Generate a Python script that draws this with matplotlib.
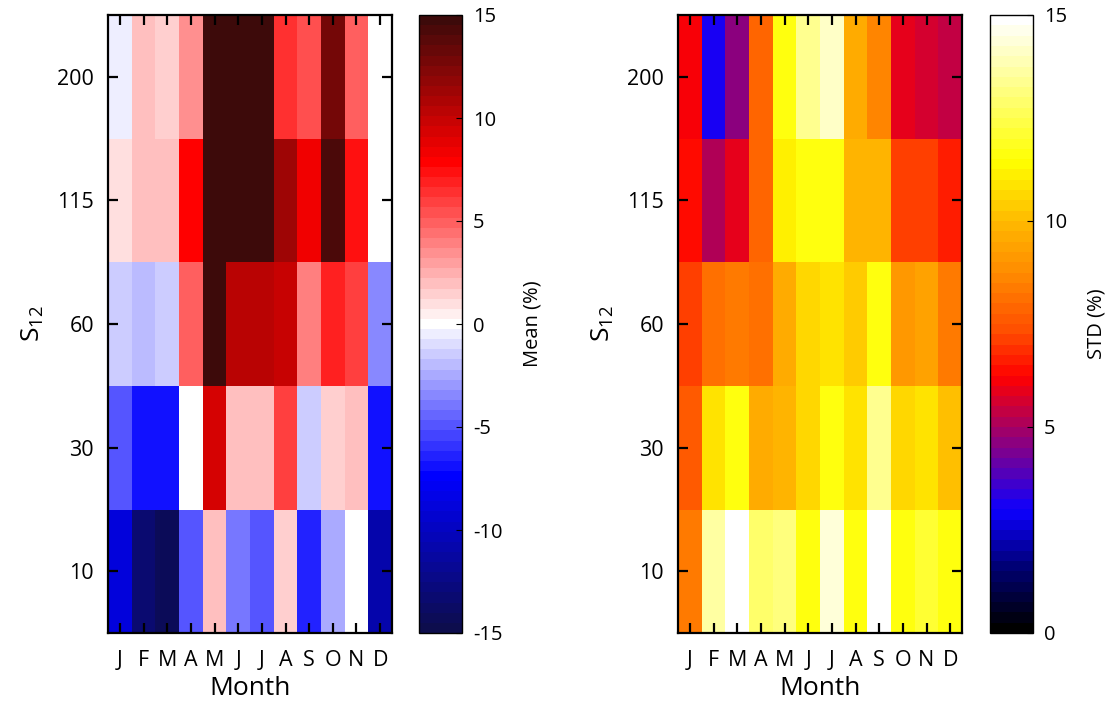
import numpy as np
import matplotlib
matplotlib.use("Agg")
import matplotlib.pyplot as plt
from matplotlib.colors import LinearSegmentedColormap, Normalize

plt.rcParams["font.family"] = ["Open Sans", "DejaVu Sans"]
plt.rcParams["mathtext.fontset"] = "custom"
plt.rcParams["mathtext.rm"] = "Open Sans"
plt.rcParams["mathtext.it"] = "Open Sans"
plt.rcParams["axes.unicode_minus"] = False

months = ["J", "F", "M", "A", "M", "J", "J", "A", "S", "O", "N", "D"]
s12_levels = ["10", "30", "60", "115", "200"]

# rows: bottom (10) to top (200)
mean_10 = [-8.8, -13.2, -14.1, -4.9, 2.0, -4.0, -4.8, 1.5, -6.3, -2.6, 0.0, -10.8]
mean_30 = [-4.8, -6.7, -7.1, 0.0, 9.1, 2.0, 2.0, 6.0, -1.4, 1.5, 2.0, -7.1]
mean_60 = [-1.4, -1.9, -1.4, 4.8, 15.0, 10.1, 10.1, 9.6, 3.7, 7.0, 5.7, -3.5]
mean_115 = [1.0, 2.0, 2.0, 8.0, 15.0, 15.0, 15.0, 11.5, 8.6, 14.1, 7.5, 0.0]
mean_200 = [-0.5, 2.0, 1.5, 3.5, 15.0, 15.0, 15.0, 6.4, 5.2, 12.7, 4.8, 0.0]

std_10 = [8.4, 13.6, 15.0, 12.8, 13.2, 11.6, 14.3, 11.7, 15.0, 11.7, 12.0, 11.6]
std_30 = [7.5, 10.9, 11.6, 9.7, 9.9, 10.6, 11.6, 10.9, 13.4, 10.7, 10.9, 10.2]
std_60 = [7.1, 8.0, 8.3, 8.0, 9.6, 10.7, 10.9, 10.3, 11.6, 9.0, 9.4, 8.4]
std_115 = [6.3, 5.0, 5.9, 7.9, 11.0, 11.6, 11.6, 9.8, 9.9, 7.0, 7.0, 6.7]
std_200 = [6.2, 3.0, 4.6, 7.9, 11.5, 13.4, 14.1, 9.7, 8.7, 5.9, 5.7, 5.4]

mean_data = np.array([mean_10, mean_30, mean_60, mean_115, mean_200])
std_data = np.array([std_10, std_30, std_60, std_115, std_200])

mean_cmap = LinearSegmentedColormap.from_list(
    "mean",
    [(0.0, (0.05, 0.05, 0.30)), (0.25, (0.0, 0.0, 1.0)), (0.5, (1, 1, 1)),
     (0.767, (1.0, 0.0, 0.0)), (1.0, (0.24, 0.04, 0.04))],
    N=61,
)
std_cmap = LinearSegmentedColormap.from_list(
    "std",
    [(0.0, (0, 0, 0)), (1.5 / 15, (0, 0, 0.45)), (2.9 / 15, (0.05, 0, 1)),
     (4.4 / 15, (0.5, 0, 0.55)), (6.2 / 15, (1, 0, 0)), (7.3 / 15, (1, 0.3, 0)),
     (8.8 / 15, (1, 0.55, 0)), (10 / 15, (1, 0.72, 0)), (11.5 / 15, (1, 1, 0)),
     (1.0, (1, 1, 1))],
    N=60,
)

W, H = 1107, 706
fig = plt.figure(figsize=(W / 100, H / 100), dpi=100)


def px_axes(x0, x1, y0, y1):
    return fig.add_axes([x0 / W, 1 - y1 / H, (x1 - x0) / W, (y1 - y0) / H])


def heat(ax, cax, data, cmap, vmin, vmax, cticks, clabel):
    im = ax.imshow(data, cmap=cmap, norm=Normalize(vmin, vmax), origin="lower",
                   aspect="auto", interpolation="nearest")
    ax.set_xticks(range(12))
    ax.set_xticklabels(months)
    ax.set_yticks(range(5))
    ax.set_yticklabels(s12_levels)
    ax.tick_params(direction="in", length=7, width=1.6, top=True, right=True,
                   labelsize=15.5, colors="black")
    ax.tick_params(axis="x", pad=12)
    ax.tick_params(axis="y", pad=10)
    for sp in ax.spines.values():
        sp.set_linewidth(1.6)
    ax.set_xlabel("Month", fontsize=19, labelpad=4)
    ax.set_ylabel(r"S$_{12}$", fontsize=19, labelpad=8)
    cb = fig.colorbar(im, cax=cax, ticks=cticks)
    cb.outline.set_linewidth(1.0)
    cax.tick_params(direction="in", length=4, width=0.8, labelsize=14.5, pad=8)
    cb.set_label(clabel, fontsize=14.5, labelpad=14)
    return im


ax1 = px_axes(108, 392, 15, 633)
cax1 = px_axes(419, 462, 15, 633)
heat(ax1, cax1, mean_data, mean_cmap, -15, 15, [-15, -10, -5, 0, 5, 10, 15], "Mean (%)")

ax2 = px_axes(678, 962, 15, 633)
cax2 = px_axes(990, 1033, 15, 633)
heat(ax2, cax2, std_data, std_cmap, 0, 15, [0, 5, 10, 15], "STD (%)")

fig.savefig("out.png", dpi=100)
